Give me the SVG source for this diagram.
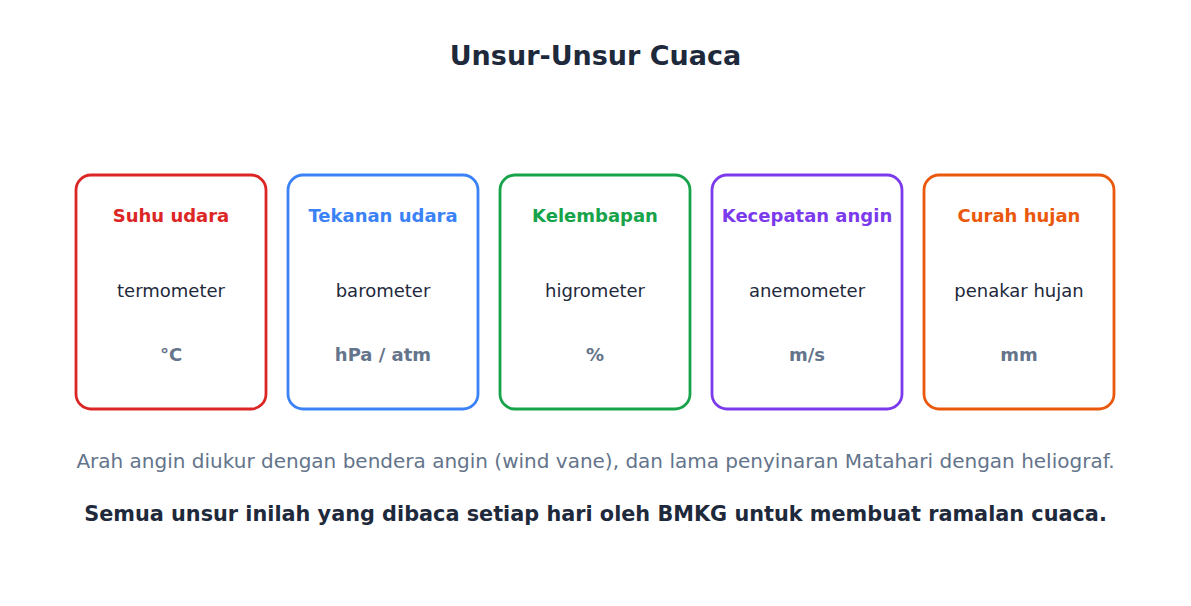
<svg xmlns="http://www.w3.org/2000/svg" width="1191" height="606" viewBox="0 0 1191 606">
<style>
text{font-family:"DejaVu Sans",Verdana,sans-serif;text-anchor:middle}
.title{font-size:27px;font-weight:bold;fill:#1e293b}
.card{fill:#ffffff;stroke-width:2.8}
.h{font-size:18px;font-weight:bold}
.inst{font-size:18px;fill:#1e293b}
.unit{font-size:18px;font-weight:bold;fill:#64748b}
.note{font-size:20px;fill:#64748b}
.sum{font-size:20.8px;font-weight:bold;fill:#1e293b}
</style>
<rect width="1191" height="606" fill="#ffffff"/>
<text class="title" x="595.5" y="65">Unsur-Unsur Cuaca</text>
<g id="suhu">
<rect class="card" x="76" y="175" width="190" height="234" rx="15" stroke="#dc2626"/>
<text class="h" x="171" y="222" fill="#dc2626">Suhu udara</text>
<text class="inst" x="171" y="297">termometer</text>
<text class="unit" x="171" y="361">°C</text>
</g>
<g id="tekanan">
<rect class="card" x="288" y="175" width="190" height="234" rx="15" stroke="#3b82f6"/>
<text class="h" x="383" y="222" fill="#3b82f6">Tekanan udara</text>
<text class="inst" x="383" y="297">barometer</text>
<text class="unit" x="383" y="361">hPa / atm</text>
</g>
<g id="kelembapan">
<rect class="card" x="500" y="175" width="190" height="234" rx="15" stroke="#16a34a"/>
<text class="h" x="595" y="222" fill="#16a34a">Kelembapan</text>
<text class="inst" x="595" y="297">higrometer</text>
<text class="unit" x="595" y="361">%</text>
</g>
<g id="angin">
<rect class="card" x="712" y="175" width="190" height="234" rx="15" stroke="#7c3aed"/>
<text class="h" x="807" y="222" fill="#7c3aed">Kecepatan angin</text>
<text class="inst" x="807" y="297">anemometer</text>
<text class="unit" x="807" y="361">m/s</text>
</g>
<g id="hujan">
<rect class="card" x="924" y="175" width="190" height="234" rx="15" stroke="#ea580c"/>
<text class="h" x="1019" y="222" fill="#ea580c">Curah hujan</text>
<text class="inst" x="1019" y="297">penakar hujan</text>
<text class="unit" x="1019" y="361">mm</text>
</g>
<g id="connectors"></g>
<text class="note" x="595.5" y="468">Arah angin diukur dengan bendera angin (wind vane), dan lama penyinaran Matahari dengan heliograf.</text>
<text class="sum" x="595.5" y="521">Semua unsur inilah yang dibaca setiap hari oleh BMKG untuk membuat ramalan cuaca.</text>
</svg>
